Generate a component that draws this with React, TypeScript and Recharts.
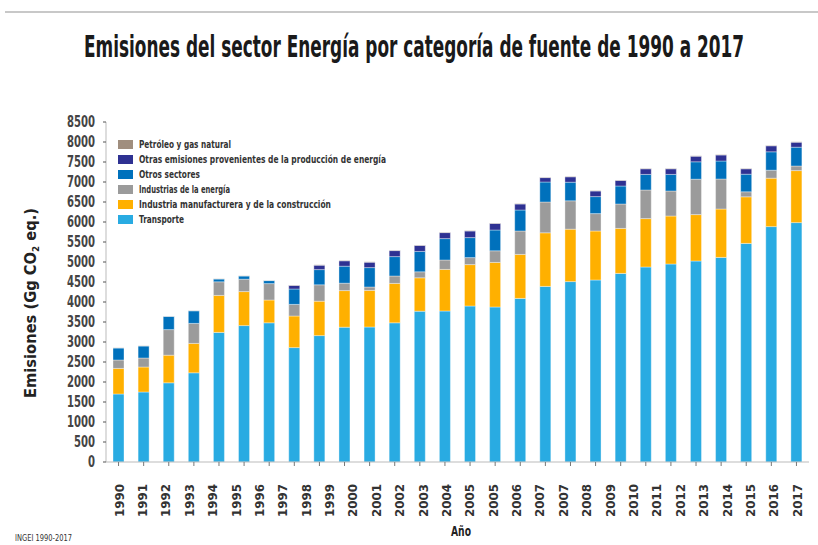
import React from 'react';
import { BarChart, Bar, XAxis, YAxis, Legend } from 'recharts';

const years = ['1990','1991','1992','1993','1994','1995','1996','1997','1998','1999','2000','2001','2002','2003','2004','2005','2006','2007','2008','2009','2010','2011','2012','2013','2014','2015','2016','2017'];

const transporte = [1700,1750,1980,2230,3240,3410,3480,2860,3160,3370,3375,3480,3770,3775,3900,3875,4090,4390,4510,4550,4715,4875,4950,5025,5115,5465,5885,5985];
const manufacturera = [640,625,690,735,925,850,570,790,860,915,915,985,835,1040,1035,1115,1100,1340,1310,1225,1125,1210,1200,1160,1210,1165,1210,1300];
const energia = [210,225,640,500,340,310,410,290,410,185,85,185,150,235,175,290,585,770,710,435,610,715,625,885,750,125,200,115];
const otrosSectores = [300,300,330,315,70,80,75,385,380,425,485,485,510,535,500,520,525,500,465,425,450,390,415,435,450,440,460,470];
const otrasEmisiones = [0,0,0,0,0,0,0,90,110,135,135,150,150,150,165,165,150,110,135,140,140,140,140,140,150,135,150,125];
const petroleo = [5,5,5,5,5,5,5,10,10,10,10,10,10,10,10,10,10,10,10,10,10,10,10,10,10,10,10,10];

const xTickLabels = ['1990','1991','1992','1993','1994','1995','1996','1997','1998','1999','2000','2001','2002','2003','2004','2005','2005','2006','2007','2007','2008','2009','2010','2011','2012','2013','2014','2015','2016','2017'];
const yTicks = [0,500,1000,1500,2000,2500,3000,3500,4000,4500,5000,5500,6000,6500,7000,7500,8000,8500];

const series = [
  { key: 'transporte', name: 'Transporte', color: '#29ABE2', values: transporte, len: 45 },
  { key: 'manufacturera', name: 'Industria manufacturera y de la construcción', color: '#FFB000', values: manufacturera, len: 192 },
  { key: 'energia', name: 'Industrias de la energía', color: '#9B9B9B', values: energia, len: 91 },
  { key: 'otrosSectores', name: 'Otros sectores', color: '#0071BC', values: otrosSectores, len: 61 },
  { key: 'otrasEmisiones', name: 'Otras emisiones provenientes de la producción de energía', color: '#2E3192', values: otrasEmisiones, len: 247 },
  { key: 'petroleo', name: 'Petróleo y gas natural', color: '#A08E7E', values: petroleo, len: 92 },
];

const data = years.map((y, i) => {
  const row: any = { year: y, idx: i };
  series.forEach((s) => { row[s.key] = s.values[i]; });
  return row;
});

const FONT = "'DejaVu Sans Condensed', 'DejaVu Sans', sans-serif";

const YTick = (props: any) => {
  const { x, y, payload } = props;
  const s = String(payload.value);
  const sx = 0.75;
  return (
    <g>
      <line x1={x + 8} x2={x + 11} y1={y} y2={y} stroke="#555" strokeWidth={1} />
      <text transform={`translate(${x} ${y}) scale(${sx} 1)`} dy="0.36em" textAnchor="end" fontSize={15} fontWeight="bold" fontFamily={FONT} fill="#444" textLength={(s.length * 7) / sx} lengthAdjust="spacingAndGlyphs">{s}</text>
    </g>
  );
};

const EmptyTick = () => <g />;

const XLabelTick = (props: any) => {
  const { x, y, payload } = props;
  const s = xTickLabels[payload.value] ?? '';
  const ty = y + 6;
  return (
    <text x={x} y={ty} dy="0.36em" textAnchor="end" transform={`rotate(-90 ${x} ${ty})`} fontSize={13} fontWeight="bold" fontFamily={FONT} fill="#333" textLength={33} lengthAdjust="spacingAndGlyphs">{s}</text>
  );
};

const renderLegend = () => {
  const rows = [...series].reverse();
  const sx = 0.78;
  return (
    <svg width={330} height={92} style={{ display: 'block', overflow: 'visible' }}>
      {rows.map((s, i) => (
        <g key={s.key}>
          <rect x={0} y={4 + i * 15} width={15} height={9} fill={s.color} />
          <text transform={`translate(21 ${8.5 + i * 15}) scale(${sx} 1)`} dy="0.36em" fontSize={10} fontWeight="bold" fontFamily={FONT} fill="#333" textLength={s.len / sx} lengthAdjust="spacingAndGlyphs">{s.name}</text>
        </g>
      ))}
    </svg>
  );
};

const xLabelTicks = xTickLabels.map((_, i) => i);

export default function App() {
  const titleSx = 0.62;
  return (
    <div style={{ position: 'fixed', left: 0, top: 0, width: 818, height: 545, background: '#fff' }}>
      <svg width={818} height={545} style={{ position: 'absolute', left: 0, top: 0 }}>
        <line x1={5} x2={818} y1={12} y2={12} stroke="#c8c8c8" strokeWidth={2} />
        <text transform={`translate(414 57) scale(${titleSx} 1)`} textAnchor="middle" fontSize={30} fontWeight="bold" fontFamily={FONT} fill="#1a1a1a" textLength={660 / titleSx} lengthAdjust="spacingAndGlyphs">Emisiones del sector Energía por categoría de fuente de 1990 a 2017</text>
        <text x={36} y={303} textAnchor="middle" transform="rotate(-90 36 303)" fontSize={15} fontWeight="bold" fontFamily={FONT} fill="#222" textLength={190} lengthAdjust="spacingAndGlyphs">Emisiones (Gg CO<tspan fontSize={9} dy={3}>2</tspan><tspan dy={-3}> eq.)</tspan></text>
        <text x={461} y={536} textAnchor="middle" fontSize={14} fontWeight="bold" fontFamily={FONT} fill="#222" textLength={20} lengthAdjust="spacingAndGlyphs">Año</text>
        <text x={15} y={541} fontSize={9} fontFamily={FONT} fill="#333" textLength={57} lengthAdjust="spacingAndGlyphs">INGEI 1990-2017</text>
      </svg>
      <div style={{ position: 'absolute', left: 0, top: 0 }}>
        <BarChart width={818} height={545} data={data} margin={{ top: 122, right: 9, left: 0, bottom: 0 }} barCategoryGap={0}>
          <YAxis type="number" domain={[0, 8500]} ticks={yTicks} interval={0} width={106} axisLine={{ stroke: '#bbb' }} tickLine={false} tick={<YTick />} tickMargin={5} />
          <XAxis xAxisId="bars" dataKey="year" height={8} axisLine={{ stroke: '#bbb' }} tickLine={{ stroke: '#777' }} tickSize={4} tick={<EmptyTick />} interval={0} />
          <XAxis xAxisId="labels" type="number" dataKey="idx" domain={[0, 29]} ticks={xLabelTicks} interval={0} allowDataOverflow padding={{ left: 13, right: 12 }} height={75} axisLine={false} tickLine={false} tick={<XLabelTick />} />
          <Legend layout="horizontal" verticalAlign="middle" align="center" content={renderLegend} wrapperStyle={{ position: 'absolute', left: 118, top: 136, width: 330, height: 92 }} />
          {series.map((s) => (
            <Bar key={s.key} dataKey={s.key} name={s.name} xAxisId="bars" stackId="a" fill={s.color} barSize={11} stroke="#ffffff" strokeOpacity={0.6} strokeWidth={0.6} isAnimationActive={false} />
          ))}
        </BarChart>
      </div>
    </div>
  );
}
